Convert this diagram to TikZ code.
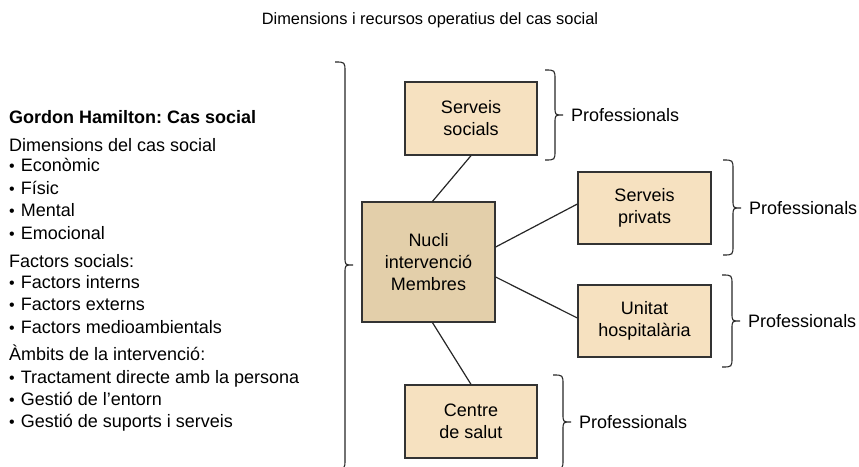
\documentclass[tikz,border=0pt]{standalone}
\usepackage{fontspec}
\setmainfont{Liberation Sans}
\frenchspacing
\definecolor{boxlight}{HTML}{F6E1C0}
\definecolor{boxcore}{HTML}{E3CFAA}
\definecolor{edge}{HTML}{333333}
\begin{document}
% right-hand curly brace: x of the stem, top y, middle y, bottom y, tip name
\newcommand\sidebrace[5]{%
  \draw[bracestyle] (#1-10,#2) .. controls (#1,#2) .. (#1,#2+10)
    -- (#1,#3-8) .. controls (#1,#3) .. (#1+8,#3) coordinate (#5)
    .. controls (#1,#3) .. (#1,#3+8)
    -- (#1,#4-10) .. controls (#1,#4) .. (#1-10,#4);}
% small list bullet
\newcommand\smallbullet{{\fontsize{16}{16}\selectfont •}\hspace{6pt}}
\begin{tikzpicture}[x=1pt,y=-1pt,
  bracestyle/.style={draw=black!85,line width=1.1pt},
  box/.style={draw=edge,line width=1.3pt,fill=#1,
    minimum width=132pt,align=center,
    font=\fontsize{18}{22}\selectfont},
  link/.style={draw=black!85,line width=1.2pt},
  body/.style={anchor=base west,inner sep=0pt,font=\fontsize{18}{22}\selectfont},
  prof/.style={anchor=west,inner sep=0pt,xshift=8pt,font=\fontsize{18}{22}\selectfont}]
\useasboundingbox (0,0) rectangle (859,466);

% title
\node[font=\fontsize{16.4}{20}\selectfont] (title) at (430,20)
  {Dimensions i recursos operatius del cas social};

% left column of text
\node[body,font=\bfseries\fontsize{18}{22}\selectfont] (t1) at (9,123) {Gordon Hamilton: Cas social};
\node[body] (t2) at (9,151) {Dimensions del cas social};
\node[body] (t3) at (9,171) {\smallbullet Econòmic};
\node[body] (t4) at (9,194) {\smallbullet Físic};
\node[body] (t5) at (9,216) {\smallbullet Mental};
\node[body] (t6) at (9,239) {\smallbullet Emocional};
\node[body] (t7) at (9,267) {Factors socials:};
\node[body] (t8) at (9,288) {\smallbullet Factors interns};
\node[body] (t9) at (9,310) {\smallbullet Factors externs};
\node[body] (t10) at (9,333) {\smallbullet Factors medioambientals};
\node[body] (t11) at (9,360) {Àmbits de la intervenció:};
\node[body] (t12) at (9,383) {\smallbullet Tractament directe amb la persona};
\node[body] (t13) at (9,405) {\smallbullet Gestió de l’entorn};
\node[body] (t14) at (9,427) {\smallbullet Gestió de suports i serveis};

% large brace
\sidebrace{345}{62}{265}{469}{bigtip}

% boxes
\node[box=boxlight,minimum height=73pt] (ss) at (471,118.5) {Serveis\\socials};
\node[box=boxcore,minimum width=133pt,minimum height=120pt] (nucli) at (428.5,262) {Nucli\\intervenció\\Membres};
\node[box=boxlight,minimum height=73pt] (cs) at (471,421.5) {Centre\\de salut};
\node[box=boxlight,minimum width=133pt,minimum height=72pt] (sp) at (644.5,208) {Serveis\\privats};
\node[box=boxlight,minimum width=133pt,minimum height=72pt] (uh) at (644.5,321) {Unitat\\hospitalària};

% connectors
\draw[link] (ss.south) -- ([xshift=4pt]nucli.north);
\draw[link] ([yshift=15pt]nucli.east) -- ([yshift=4pt]sp.west);
\draw[link] ([yshift=-15pt]nucli.east) -- ([yshift=3pt]uh.west);
\draw[link] ([xshift=4pt]nucli.south) -- (cs.north);

% professional braces
\sidebrace{555}{70}{115}{160}{b1}
\sidebrace{733}{160}{208}{255}{b2}
\sidebrace{732}{275}{321}{367}{b3}
\sidebrace{563}{375}{422}{469}{b4}
\node[prof] (p1) at (b1) {Professionals};
\node[prof] (p2) at (b2) {Professionals};
\node[prof] (p3) at (b3) {Professionals};
\node[prof] (p4) at (b4) {Professionals};
\end{tikzpicture}
\end{document}
